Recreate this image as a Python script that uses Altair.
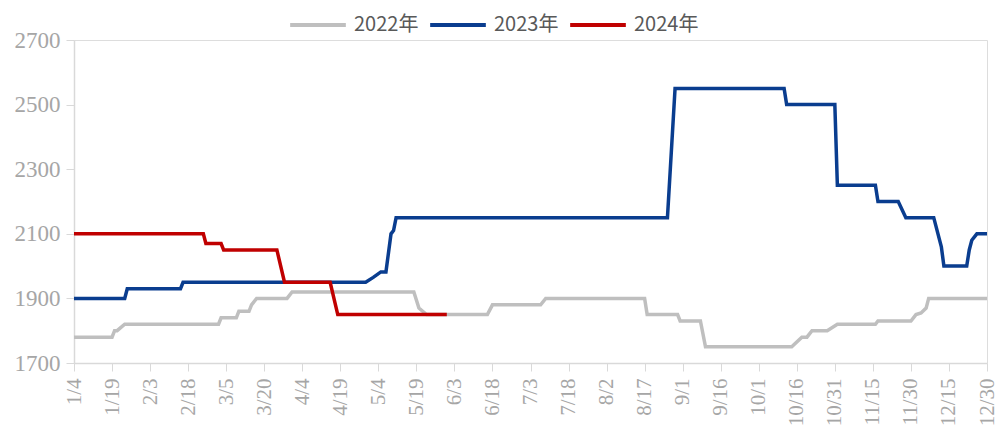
import altair as alt
import pandas as pd

series_names = ["2022年", "2023年", "2024年"]
series_colors = ["#BFBFBF", "#0A3D8F", "#C00000"]

dates2022 = ["1/4", "1/19", "1/20", "1/21", "1/24", "3/2", "3/3", "3/9", "3/10", "3/14",
             "3/15", "3/17", "3/29", "3/31", "5/18", "5/20", "5/23", "6/16", "6/18", "7/7",
             "7/9", "8/17", "8/18", "8/30", "8/31", "9/8", "9/10", "10/14", "10/18", "10/20",
             "10/22", "10/28", "11/1", "11/16", "11/17", "11/30", "12/2", "12/4", "12/6", "12/7",
             "12/30"]
vals2022 = [1780, 1780, 1800, 1800, 1820, 1820, 1840, 1840, 1860, 1860,
            1880, 1900, 1900, 1920, 1920, 1870, 1850, 1850, 1880, 1880,
            1900, 1900, 1850, 1850, 1830, 1830, 1750, 1750, 1780, 1780,
            1800, 1800, 1820, 1820, 1830, 1830, 1850, 1855, 1870, 1900,
            1900]

dates2023 = ["1/4", "1/24", "1/25", "2/15", "2/16", "4/29", "5/2", "5/5", "5/7", "5/9",
             "5/10", "5/11", "8/26", "8/29", "10/11", "10/12", "10/31", "11/1", "11/16", "11/17",
             "11/25", "11/28", "12/9", "12/12", "12/13", "12/22", "12/23", "12/24", "12/26", "12/30"]
vals2023 = [1900, 1900, 1930, 1930, 1950, 1950, 1965, 1982, 1982, 2100,
            2110, 2150, 2150, 2550, 2550, 2500, 2500, 2250, 2250, 2200,
            2200, 2150, 2150, 2060, 2000, 2000, 2050, 2080, 2100, 2100]

dates2024 = ["1/4", "2/24", "2/25", "3/3", "3/4", "3/25", "3/28", "4/15", "4/18", "5/31"]
vals2024 = [2100, 2100, 2070, 2070, 2050, 2050, 1950, 1950, 1850, 1850]

tick_labels = ["1/4", "1/19", "2/3", "2/18", "3/5", "3/20", "4/4", "4/19", "5/4", "5/19",
               "6/3", "6/18", "7/3", "7/18", "8/2", "8/17", "9/1", "9/16", "10/1", "10/16",
               "10/31", "11/15", "11/30", "12/15", "12/30"]
y_ticks = [1700, 1900, 2100, 2300, 2500, 2700]


def iso(md):
    m, d = md.split("/")
    return f"2023-{int(m):02d}-{int(d):02d}"


def dt(md):
    m, d = md.split("/")
    return alt.DateTime(year=2023, month=int(m), date=int(d), utc=True)


rows = []
for name, ds, vs in zip(series_names, [dates2022, dates2023, dates2024], [vals2022, vals2023, vals2024]):
    for d, v in zip(ds, vs):
        rows.append({"series": name, "date": iso(d), "value": v})
df = pd.DataFrame(rows)

axis_color = "#D9D9D9"
label_color = "#A6A6A6"
serif = "Liberation Serif, Times New Roman, serif"

chart = alt.Chart(df).mark_line(strokeWidth=3.5).encode(
    x=alt.X(
        "date:T",
        scale=alt.Scale(type="utc", domain=[dt("1/4"), dt("12/30")], nice=False),
        axis=alt.Axis(
            values=[dt(t) for t in tick_labels], format="%-m/%-d", labelAngle=270,
            title=None, grid=False, domainColor=axis_color, tickColor=axis_color,
            tickSize=8, labelPadding=7, labelFont=serif, labelFontSize=21,
            labelColor=label_color, labelOverlap=False, domainWidth=1.5,
        ),
    ),
    y=alt.Y(
        "value:Q",
        scale=alt.Scale(domain=[1700, 2700], nice=False, zero=False),
        axis=alt.Axis(
            values=y_ticks, format="d", title=None, grid=False, domainColor=axis_color,
            tickColor=axis_color, tickSize=8, labelPadding=6, labelFont=serif,
            labelFontSize=23, labelColor=label_color, domainWidth=1.5,
        ),
    ),
    color=alt.Color(
        "series:N",
        scale=alt.Scale(domain=series_names, range=series_colors),
        sort=series_names,
        legend=alt.Legend(
            title=None, orient="none", legendX=214, legendY=-45, direction="horizontal",
            symbolType="stroke", symbolSize=3100, symbolStrokeWidth=4,
            labelFont="Noto Sans CJK SC", labelFontSize=20, labelColor="#595959",
            columnPadding=3, labelOffset=6,
        ),
    ),
    order=alt.Order("series:N"),
).properties(
    width=913,
    height=323,
    padding={"left": 66, "top": 32, "right": 11, "bottom": 63},
    autosize=alt.AutoSizeParams(type="none"),
).configure_view(stroke=None).configure(background="white")

chart.save("out.html", embed_options={"renderer": "svg", "actions": False})
